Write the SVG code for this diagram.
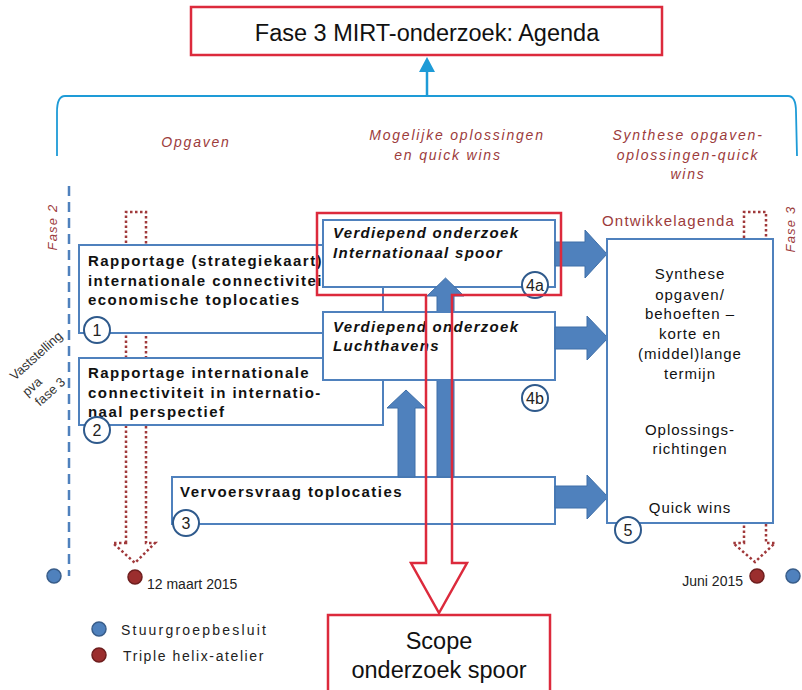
<svg xmlns="http://www.w3.org/2000/svg" width="802" height="690" viewBox="0 0 802 690">
<style>
.box{fill:#fff;stroke:#4F81BD;stroke-width:2}
.blk{fill:#4F81BD;stroke:#3F6FA8;stroke-width:1}
.num{fill:#fff;stroke:#2F5A8C;stroke-width:2}
.numt{font-family:"Liberation Sans",Arial,sans-serif;font-size:16px;fill:#222;text-anchor:middle}
.bt{font-family:"Liberation Sans",Arial,sans-serif;font-size:15px;font-weight:bold;fill:#111;letter-spacing:1.45px}
.bi{font-family:"Liberation Sans",Arial,sans-serif;font-size:15px;font-weight:bold;font-style:italic;fill:#111;letter-spacing:1.3px}
.st{font-family:"Liberation Sans",Arial,sans-serif;font-size:15px;fill:#111;letter-spacing:1px;text-anchor:middle}
.hd{font-family:"Liberation Sans",Arial,sans-serif;font-size:14px;font-style:italic;fill:#9C3B3B;letter-spacing:1.8px;text-anchor:middle}
.ph{font-family:"Liberation Sans",Arial,sans-serif;font-size:13px;font-style:italic;fill:#9C3B3B;letter-spacing:1.2px;text-anchor:middle}
.oa{font-family:"Liberation Sans",Arial,sans-serif;font-size:15px;fill:#9C3B3B;letter-spacing:1.2px}
.red{fill:none;stroke:#DC2A3C;stroke-width:2.5}
.dot{fill:none;stroke:#A0393B;stroke-width:2.5;stroke-dasharray:2.5 2.5}
.sm{font-family:"Liberation Sans",Arial,sans-serif;font-size:14px;fill:#222}
.bdot{fill:#4F81BD;stroke:#385D8A;stroke-width:1.5}
.rdot{fill:#9B2E2E;stroke:#6E1E1E;stroke-width:1.5}
.big{font-family:"Liberation Sans",Arial,sans-serif;fill:#111;text-anchor:middle}
</style>

<g id="bracket">
<path d="M57,156 L57,112 Q57,96 65,96 L788,96 Q796,96 796,112 L797,156" fill="none" stroke="#1E9BD7" stroke-width="1.8"/>
</g>

<g id="agenda">
<rect x="191" y="7" width="471" height="48" fill="#fff" stroke="#DC2A3C" stroke-width="2.5"/>
<text class="big" x="427" y="41" font-size="23.5">Fase 3 MIRT-onderzoek: Agenda</text>
</g>

<g id="headers">
<text class="hd" x="196" y="147">Opgaven</text>
<text class="hd" x="457" y="140">Mogelijke oplossingen</text>
<text class="hd" x="448" y="160">en quick wins</text>
<text class="hd" x="688" y="140">Synthese opgaven-</text>
<text class="hd" x="688" y="160">oplossingen-quick</text>
<text class="hd" x="688" y="179">wins</text>
<text class="ph" transform="translate(57,227) rotate(-90)">Fase 2</text>
<text class="ph" transform="translate(795,229) rotate(-90)">Fase 3</text>
<text class="oa" x="602" y="226">Ontwikkelagenda</text>
</g>

<g id="vaststelling" font-family="Liberation Sans, Arial, sans-serif" font-size="13" fill="#333" text-anchor="middle">
<text transform="translate(39,359) rotate(-42)">Vaststelling</text>
<text transform="translate(35,390) rotate(-42)">pva</text>
<text transform="translate(53,395) rotate(-42)">fase 3</text>
</g>

<g id="connectors">
<line x1="69" y1="186" x2="69" y2="576" stroke="#4F81BD" stroke-width="2.5" stroke-dasharray="10 6"/>
<path class="dot" d="M126,543 L126,212 L146,212 L146,543 L155,543 L135,563 L113,543 Z"/>
<path class="dot" d="M744,543 L744,212 L766,212 L766,543 L775,543 L755,562 L733,543 Z"/>
<line x1="427" y1="96" x2="427" y2="70" stroke="#1E9BD7" stroke-width="2.5"/>
<path d="M419,72 L435,72 L427,57 Z" fill="#1E9BD7"/>
</g>

<g id="node1">
<rect class="box" x="79" y="245" width="304" height="88"/>
<text class="bt" x="88" y="266">Rapportage (strategiekaart)</text>
<text class="bt" x="88" y="286">internationale connectiviteit</text>
<text class="bt" x="88" y="305">economische toplocaties</text>
<circle class="num" cx="97" cy="330" r="13"/>
<text class="numt" x="97" y="336">1</text>
</g>

<g id="node2">
<rect class="box" x="79" y="358" width="304" height="67"/>
<text class="bt" x="88" y="378">Rapportage internationale</text>
<text class="bt" x="88" y="398">connectiviteit in internatio-</text>
<text class="bt" x="88" y="417">naal perspectief</text>
<circle class="num" cx="97" cy="430" r="13"/>
<text class="numt" x="97" y="436">2</text>
</g>

<g id="node3">
<rect class="box" x="172" y="477" width="383" height="47"/>
<text class="bt" x="180" y="497">Vervoersvraag toplocaties</text>
<circle class="num" cx="186" cy="523" r="13"/>
<text class="numt" x="186" y="529">3</text>
</g>

<g id="node4a">
<rect class="box" x="323" y="220" width="232" height="67"/>
<text class="bi" x="333" y="238">Verdiepend onderzoek</text>
<text class="bi" x="333" y="258">Internationaal spoor</text>
</g>

<g id="arrows-up">
<polygon class="blk" points="398,477 398,408 387,408 406,390 425,408 415,408 415,477"/>
<polygon class="blk" points="437,477 437,296 427,296 445.5,278 464,296 454,296 454,477"/>
</g>

<g id="node4b">
<rect class="box" x="323" y="312" width="232" height="68"/>
<text class="bi" x="333" y="332">Verdiepend onderzoek</text>
<text class="bi" x="333" y="351">Luchthavens</text>
</g>

<g id="arrows-right">
<polygon class="blk" points="555,242 585,242 585,230 607,254 585,278 585,266 555,266"/>
<polygon class="blk" points="555,327 587,327 587,316 608,338 587,360 587,349 555,349"/>
<polygon class="blk" points="555,486 587,486 587,475 608,497 587,519 587,508 555,508"/>
</g>

<g id="node5">
<rect class="box" x="607" y="239" width="166" height="284"/>
<text class="st" x="690" y="279">Synthese</text>
<text class="st" x="690" y="300">opgaven/</text>
<text class="st" x="690" y="319">behoeften –</text>
<text class="st" x="690" y="339">korte en</text>
<text class="st" x="690" y="359">(middel)lange</text>
<text class="st" x="690" y="379">termijn</text>
<text class="st" x="690" y="435">Oplossings-</text>
<text class="st" x="690" y="454">richtingen</text>
<text class="st" x="690" y="513">Quick wins</text>
<circle class="num" cx="628" cy="530" r="13"/>
<text class="numt" x="628" y="536">5</text>
</g>

<g id="labels4">
<circle class="num" cx="535" cy="285" r="13"/>
<text class="numt" x="535" y="291">4a</text>
<circle class="num" cx="535" cy="398" r="13"/>
<text class="numt" x="535" y="404">4b</text>
</g>

<g id="scope-arrow">
<path class="red" d="M317,213 L561,213 L561,295 L452,295 L452,563 L467,563 L439,613 L411,563 L426,563 L426,295 L317,295 Z"/>
</g>

<g id="scope">
<rect x="328" y="615" width="222" height="85" fill="#fff" stroke="#DC2A3C" stroke-width="2.5"/>
<text class="big" x="439" y="649" font-size="23.5">Scope</text>
<text class="big" x="439" y="678" font-size="23.5">onderzoek spoor</text>
</g>

<g id="milestones">
<circle class="bdot" cx="54" cy="576" r="7"/>
<circle class="rdot" cx="135" cy="577" r="7"/>
<text class="sm" x="147" y="589" font-size="14.8">12 maart 2015</text>
<circle class="rdot" cx="757" cy="576" r="7"/>
<text class="sm" x="743" y="586" text-anchor="end">Juni 2015</text>
<circle class="bdot" cx="793" cy="576" r="7"/>
</g>

<g id="legend">
<circle class="bdot" cx="99" cy="629" r="7"/>
<text class="sm" x="121" y="635" letter-spacing="2.2">Stuurgroepbesluit</text>
<circle class="rdot" cx="99" cy="655" r="7"/>
<text class="sm" x="123" y="661" letter-spacing="1.6">Triple helix-atelier</text>
</g>
</svg>
